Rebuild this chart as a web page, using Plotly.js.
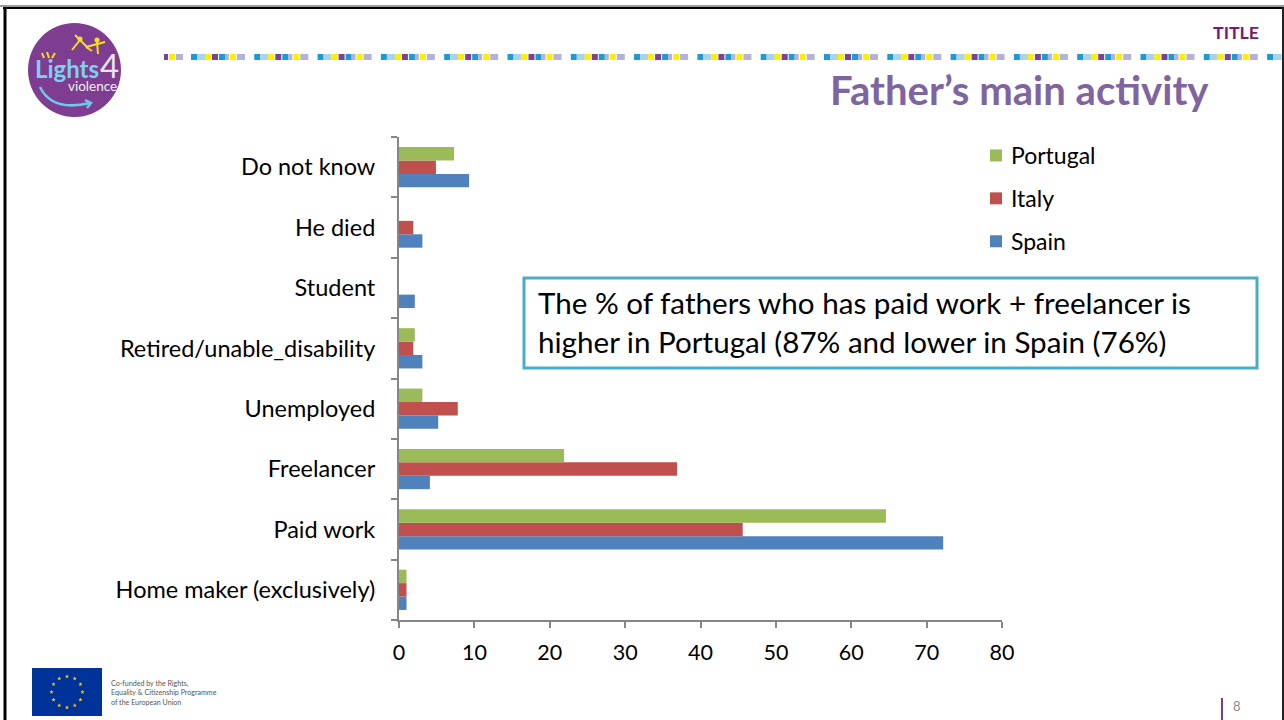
<!DOCTYPE html>
<html>
<head>
<meta charset="utf-8">
<script src="https://cdn.plot.ly/plotly-3.0.1.min.js"></script>
<style>html,body{margin:0;padding:0;background:#fff;overflow:hidden}</style>
</head>
<body>
<div id="chart" style="width:1284px;height:720px"></div>
<script>
const categories = ["Home maker (exclusively)", "Paid work", "Freelancer", "Unemployed", "Retired/unable_disability", "Student", "He died", "Do not know"];
const spain = [1.0, 72.2, 4.1, 5.2, 3.1, 2.1, 3.1, 9.3];
const italy = [1.0, 45.6, 36.9, 7.8, 1.9, null, 1.9, 4.9];
const portugal = [1.0, 64.6, 21.9, 3.1, 2.1, null, null, 7.3];
const xTicks = [0, 10, 20, 30, 40, 50, 60, 70, 80];

const W = 1284, H = 720, FONT = "Lato, Carlito, Calibri, sans-serif";
const fx = p => p / W, fy = p => 1 - p / H;
const rect = (x0, y0, x1, y1, fill, line) => ({type: "rect", xref: "paper", yref: "paper", layer: "above",
  x0: fx(x0), x1: fx(x1), y0: fy(y0), y1: fy(y1), fillcolor: fill || "rgba(0,0,0,0)", line: line || {width: 0}});
const seg = (x0, y0, x1, y1, color, width) => ({type: "line", xref: "paper", yref: "paper", layer: "above",
  x0: fx(x0), x1: fx(x1), y0: fy(y0), y1: fy(y1), line: {color, width}});
const pathShape = (pts, fill, line, closed) => ({type: "path", xref: "paper", yref: "paper", layer: "above",
  path: pts.map(s => typeof s === "string" ? s : fx(s[0]) + "," + fy(s[1])).join(" ") + (closed ? " Z" : ""),
  fillcolor: fill || "rgba(0,0,0,0)", line: line || {width: 0}});
const note = (text, x, y, anchor, size, color) => ({text, x: fx(x), y: fy(y), xref: "paper", yref: "paper",
  xanchor: anchor, yanchor: "middle", showarrow: false, borderpad: 0, font: {family: FONT, size, color}});

const shapes = [];
// slide frame
shapes.push(seg(0, 6, W, 6, "#9a9a9a", 2), seg(3, 8, W, 8, "#000", 2), seg(5, 7, 5, H, "#000", 3), seg(1283, 7, 1283, H, "#222", 2));

// decorative strip
const LIL = "#b4b2d8", YEL = "#ffee00", PUR = "#7b4397", BLU = "#1a9ad6", PAL = "#a9d3ea";
const stripCells = [[0, 6, BLU], [6, 8, PAL], [14, 6, YEL], [21, 6, PUR], [28, 6, BLU], [34, 4, LIL], [39, 6, YEL], [46, 8, LIL]];
shapes.push(rect(164, 54, 168, 60, PUR), rect(169, 54, 175, 60, YEL), rect(176, 54, 183, 60, LIL));
for (let s = 191; s < 1284; s += 63.3) {
  stripCells.forEach(c => { if (s + c[0] < 1282) shapes.push(rect(s + c[0], 54, Math.min(s + c[0] + c[1], 1282), 60, c[2])); });
}

// logo
shapes.push({type: "circle", xref: "paper", yref: "paper", layer: "above", x0: fx(28), x1: fx(121), y0: fy(117), y1: fy(23), fillcolor: "#7e3d91", line: {width: 0}});
shapes.push(pathShape(["M", [40, 87], "Q", [52, 112], [90, 103]], null, {color: "#6cc9ea", width: 2.5}));
shapes.push(pathShape(["M", [85, 100], "L", [91, 103], "L", [87, 108]], null, {color: "#6cc9ea", width: 2.5}));
[[[42, 53], [44, 58]], [[47, 52], [49, 58]], [[55, 53], [52, 58]]].forEach(l => shapes.push(seg(l[0][0], l[0][1], l[1][0], l[1][1], "#f7e017", 2)));
[[[80, 40], [72, 50]], [[75, 35], [88, 48]], [[97, 41], [98, 54]], [[86, 47], [105, 42]], [[86, 47], [92, 51]]].forEach(l => shapes.push(seg(l[0][0], l[0][1], l[1][0], l[1][1], "#f7e017", 2)));
[[80, 39], [97, 40]].forEach(c => shapes.push({type: "circle", xref: "paper", yref: "paper", layer: "above", x0: fx(c[0] - 2.5), x1: fx(c[0] + 2.5), y0: fy(c[1] + 2.5), y1: fy(c[1] - 2.5), fillcolor: "#f7e017", line: {width: 0}}));

// EU flag
shapes.push(rect(32, 668, 102, 716, "#003399"));
const star = (cx, cy, r) => {
  const pts = [];
  for (let i = 0; i < 10; i++) {
    const a = -Math.PI / 2 + i * Math.PI / 5, q = i % 2 ? r * 0.4 : r;
    pts.push(i === 0 ? "M" : "L", [cx + q * Math.cos(a), cy + q * Math.sin(a)]);
  }
  return pathShape(pts, "#ffcc00", null, true);
};
for (let i = 0; i < 12; i++) {
  const a = i * Math.PI / 6;
  shapes.push(star(67 + 15.5 * Math.cos(a), 692 + 15.5 * Math.sin(a), 2.2));
}

// callout box and page marker
shapes.push(rect(524, 278, 1257, 368, "#fff", {color: "#4bacc6", width: 3}));
shapes.push(seg(1222, 698, 1222, 720, "#7b3a96", 2));

const annotations = [
  note("<b>TITLE</b>", 1260, 32, "right", 17.8, "#7a1a6f"),
  note("<b>Father’s main activity</b>", 1210, 89, "right", 40.1, "#8064a2"),
  note("The % of fathers who has paid work + freelancer is", 537, 302, "left", 29.6, "#000"),
  note("higher in Portugal (87% and lower in Spain (76%)", 537, 341, "left", 29.6, "#000"),
  note("<b>Lights</b>", 34, 68, "left", 24, "#7fd0ee"),
  note("4", 99, 65, "left", 33, "#e8e3ee"),
  note("violence", 67, 86, "left", 13.5, "#f3eef6"),
  note("Co-funded by the Rights,", 110, 683, "left", 7.1, "#555"),
  note("Equality & Citizenship Programme", 110, 692, "left", 7.1, "#555"),
  note("of the European Union", 110, 702, "left", 7.1, "#555"),
  note("8", 1237, 706, "center", 13, "#8a8a8a")
];

const bar = (name, x, color, rank) => ({type: "bar", orientation: "h", name, x, y: categories, marker: {color},
  legendgroup: name, legendrank: rank, cliponaxis: false, hoverinfo: "x+y+name"});

const data = [bar("Spain", spain, "#4f81bd", 3), bar("Italy", italy, "#c0504d", 2), bar("Portugal", portugal, "#9bbb59", 1)];

const layout = {
  width: W, height: H, margin: {l: 0, r: 0, t: 0, b: 0, pad: 0},
  paper_bgcolor: "#fff", plot_bgcolor: "#fff",
  font: {family: FONT, color: "#000"},
  barmode: "group", bargap: 1 / 3, bargroupgap: 0,
  xaxis: {domain: [fx(399), fx(1002)], range: [0, 80], tickmode: "array", tickvals: xTicks, showgrid: false, zeroline: false,
    showline: true, linecolor: "#868686", linewidth: 2, ticks: "outside", ticklen: 6, tickcolor: "#868686", tickwidth: 2,
    tickfont: {family: FONT, size: 21.5, color: "#000"}, ticklabelstandoff: 6},
  yaxis: {domain: [fy(620), fy(137)], type: "category", categoryorder: "array", categoryarray: categories, showgrid: false, zeroline: false,
    showline: true, linecolor: "#868686", linewidth: 2, ticks: "outside", ticklen: 6, tickcolor: "#868686", tickwidth: 2,
    tickson: "boundaries", tickfont: {family: FONT, size: 23.5, color: "#000"}, ticklabelstandoff: 17},
  legend: {x: fx(976), y: fy(134), xanchor: "left", yanchor: "top", traceorder: "grouped", tracegroupgap: 10,
    font: {family: FONT, size: 23, color: "#000"}, bgcolor: "rgba(0,0,0,0)"},
  showlegend: true, shapes, annotations
};
Plotly.newPlot("chart", data, layout, {displayModeBar: false, staticPlot: true}).then(gd => {
  gd.querySelectorAll(".legendtext").forEach(t => t.setAttribute("x", +t.getAttribute("x") - 5));
});
</script>
</body>
</html>
